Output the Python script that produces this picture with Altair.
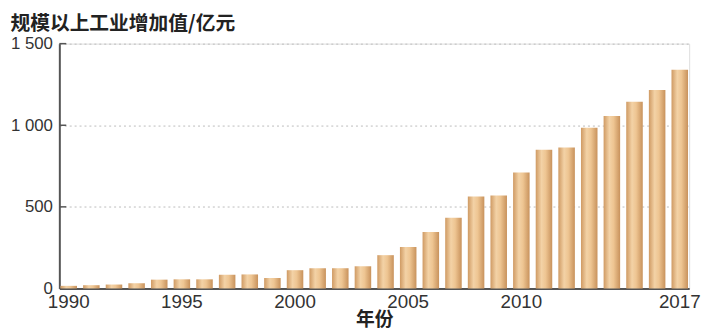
import altair as alt
import pandas as pd

years = [str(y) for y in range(1990, 2018)]
values = [16, 20, 24, 32, 54, 56, 56, 84, 86, 64, 112, 124, 124, 136, 204, 254,
          346, 434, 564, 570, 710, 850, 864, 984, 1056, 1144, 1216, 1340]
x_label_years = ["1990", "1995", "2000", "2005", "2010", "2017"]
y_ticks = [0, 500, 1000, 1500]
inner_ticks = [500, 1000, 1500]

df = pd.DataFrame({"year": years, "value": values})
ticks_df = pd.DataFrame({"v": inner_ticks})

gradient = alt.LinearGradient(
    gradient="linear",
    stops=[
        alt.GradientStop(offset=0, color="#cf9a63"),
        alt.GradientStop(offset=0.35, color="#f3d2a6"),
        alt.GradientStop(offset=0.6, color="#eec592"),
        alt.GradientStop(offset=1, color="#c8925c"),
    ],
    x1=0, x2=1, y1=0, y2=0,
)

num_font = "Liberation Sans Narrow, Liberation Sans, Arial"
cjk_font = "Noto Sans CJK SC"

bars = alt.Chart(df).mark_bar(color=gradient).encode(
    x=alt.X(
        "year:O",
        sort=years,
        scale=alt.Scale(paddingInner=0.27, paddingOuter=0.05),
        axis=alt.Axis(
            values=x_label_years,
            title="年份",
            titleFont=cjk_font,
            titleFontSize=19,
            titleFontWeight="bold",
            titleColor="#222",
            titlePadding=0,
            labelAngle=0,
            labelFont=num_font,
            labelFontSize=19,
            labelColor="#333",
            labelPadding=4,
            ticks=False,
            domainColor="#555",
            domainWidth=2,
            grid=False,
        ),
    ),
    y=alt.Y(
        "value:Q",
        scale=alt.Scale(domain=[0, 1500], nice=False),
        axis=alt.Axis(
            values=y_ticks,
            title=None,
            labelExpr="replace(format(datum.value, ','), ',', ' ')",
            labelFont=num_font,
            labelFontSize=17,
            labelColor="#333",
            labelPadding=7,
            ticks=False,
            domainColor="#555",
            domainWidth=2,
            grid=True,
            gridColor="#bbbbbb",
            gridDash=[2, 3],
            gridWidth=1,
        ),
    ),
)

tick_marks = alt.Chart(ticks_df).mark_rule(color="#555", strokeWidth=1.5).encode(
    y="v:Q",
    x=alt.value(0),
    x2=alt.value(7),
)

chart = alt.layer(bars, tick_marks).properties(
    width=638,
    height=248,
    title=alt.TitleParams(
        text="规模以上工业增加值/亿元",
        anchor="start",
        font=cjk_font,
        fontSize=20,
        fontWeight="bold",
        color="#222",
        offset=4,
        dy=3,
    ),
    autosize=alt.AutoSizeParams(type="none"),
    padding={"left": 52, "top": 34, "right": 12, "bottom": 42},
).configure_view(stroke=None).configure(background="white")

chart.save("out.html", embed_options={"renderer": "svg", "actions": False})
